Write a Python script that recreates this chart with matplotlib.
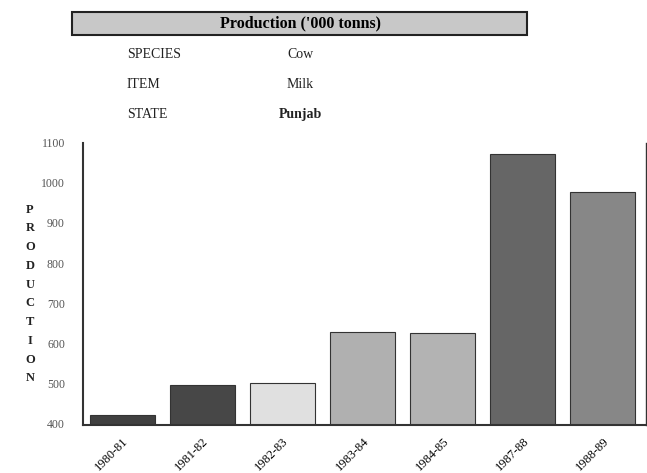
import matplotlib.pyplot as plt
import matplotlib.transforms as mtransforms
from matplotlib.patches import Rectangle

years = ["1980-81", "1981-82", "1982-83", "1983-84", "1984-85", "1987-88", "1988-89"]
production = [420, 495, 500, 627, 625, 1072, 977]
bar_colors = ["#404040", "#474747", "#e0e0e0", "#b0b0b0", "#b3b3b3", "#666666", "#878787"]
y_ticks = [400, 500, 600, 700, 800, 900, 1000, 1100]
info_labels = ["SPECIES", "ITEM", "STATE"]
info_values = ["Cow", "Milk", "Punjab"]

plt.rcParams["font.family"] = ["Liberation Serif", "DejaVu Serif"]

W, H = 647, 473
fig = plt.figure(figsize=(W / 100, H / 100), dpi=100)

# header box
fig.patches.append(Rectangle((72 / W, 1 - 35 / H), (527 - 72) / W, 23 / H,
                             transform=fig.transFigure, facecolor="#c8c8c8",
                             edgecolor="#222222", linewidth=1.5))
fig.text(300 / W, 1 - 23 / H, "Production ('000 tonns)", ha="center", va="center",
         fontsize=11.5, fontweight="bold")
for i, (lab, val) in enumerate(zip(info_labels, info_values)):
    y = 1 - (54 + 30 * i) / H
    fig.text(127 / W, y, lab, ha="left", va="center", fontsize=10, color="#222222")
    fig.text(300 / W, y, val, ha="center", va="center", fontsize=10, color="#222222",
             fontweight="bold" if val == "Punjab" else "normal")

ax = fig.add_axes([83 / W, (473 - 425) / H, (646 - 83) / W, (425 - 143) / H])
x = range(len(years))
ax.bar(x, production, width=0.81, color=bar_colors, edgecolor="#333333", linewidth=0.8)
ax.set_xlim(-0.49, 6.54)
ax.set_ylim(395, 1100)
ax.set_yticks(y_ticks)
ax.set_yticklabels([str(t) for t in y_ticks], fontsize=8.5, color="#555555")
ax.set_xticks(list(x))
ax.set_xticklabels(years, rotation=45, ha="right", rotation_mode="anchor", fontsize=9)
shift = mtransforms.ScaledTranslation(10 / 100, 0, fig.dpi_scale_trans)
for lbl in ax.get_xticklabels():
    lbl.set_transform(lbl.get_transform() + shift)
ax.tick_params(axis="y", length=0, pad=13)
ax.tick_params(axis="x", length=0, pad=7)
ax.spines["top"].set_visible(False)
for side in ["left", "bottom", "right"]:
    ax.spines[side].set_color("#333333")
    ax.spines[side].set_linewidth(1.5)
ax.spines["right"].set_linewidth(1.0)

fig.text(30 / W, 1 - 294 / H, "\n".join("PRODUCTION"), ha="center", va="center",
         fontsize=9, fontweight="bold", linespacing=1.75, color="#222222")

fig.savefig("out.png", dpi=100)
